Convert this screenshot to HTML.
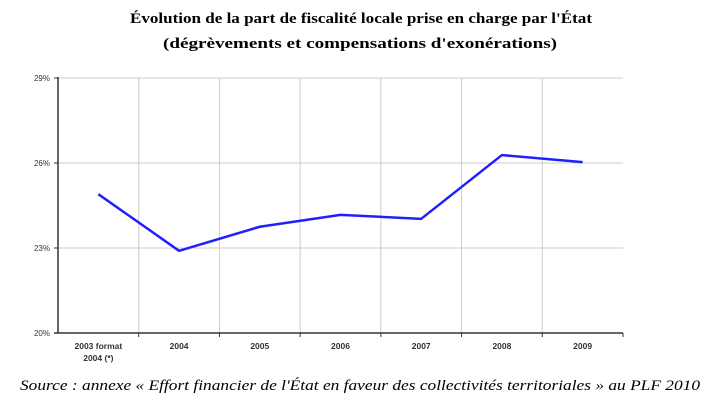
<!DOCTYPE html>
<html><head><meta charset="utf-8"><style>
body{margin:0;background:#fff;width:723px;height:409px;overflow:hidden}
svg{display:block}
</style></head><body>
<svg width="723" height="409">
<text x="130" y="23" textLength="462" lengthAdjust="spacingAndGlyphs" font-family="Liberation Serif, serif" font-weight="bold" font-size="15">Évolution de la part de fiscalité locale prise en charge par l'État</text>
<text x="163" y="48" textLength="394" lengthAdjust="spacingAndGlyphs" font-family="Liberation Serif, serif" font-weight="bold" font-size="15">(dégrèvements et compensations d'exonérations)</text>
<g id="grid"></g>
<g id="axes"></g>
<g id="series"></g>
<text x="20" y="390" textLength="680" lengthAdjust="spacingAndGlyphs" font-family="Liberation Serif, serif" font-style="italic" font-size="15">Source : annexe « Effort financier de l'État en faveur des collectivités territoriales » au PLF 2010</text>
</svg>
<script>
const categories=["2003 format|2004 (*)","2004","2005","2006","2007","2008","2009"];
const values=[24.9,22.9,23.75,24.17,24.03,26.28,26.03];
const yTicks=[20,23,26,29];
const NS="http://www.w3.org/2000/svg";
const L=58,R=623,T=78,B=333,yMin=20,yMax=29;
const bw=(R-L)/categories.length;
const xs=i=>L+bw*(i+0.5);
const ys=v=>B-(v-yMin)/(yMax-yMin)*(B-T);
function mk(tag,attrs,parent){const e=document.createElementNS(NS,tag);for(const k in attrs)e.setAttribute(k,attrs[k]);document.getElementById(parent).appendChild(e);return e;}
yTicks.forEach(t=>{
 if(t>yMin){const g=mk('line',{x1:L,x2:R,y1:ys(t),y2:ys(t),stroke:'#ccc','stroke-width':1},'grid');
 
 }
 const tk=mk('line',{x1:L-4,x2:L,y1:ys(t),y2:ys(t),stroke:'#333'},'axes');
 
 
 const tx=mk('text',{x:L-8,y:ys(t)+3,'text-anchor':'end','font-family':'Liberation Sans, sans-serif','font-size':8,fill:'#333'},'axes');
 tx.textContent=t+'%';
 
 
});
for(let i=1;i<=categories.length;i++){
 const x=L+bw*i;
 if(i<categories.length){const g=mk('line',{x1:x,x2:x,y1:T,y2:B,stroke:'#ccc'},'grid');
 
 }
 const tk=mk('line',{x1:x,x2:x,y1:B,y2:B+4,stroke:'#333'},'axes');
 
 
}
const ya=mk('line',{x1:L,x2:L,y1:T-1,y2:B,stroke:'#333','stroke-width':1.5},'axes');


const xa=mk('line',{x1:L-4,x2:R,y1:B,y2:B,stroke:'#333','stroke-width':1.5},'axes');


categories.forEach((c,i)=>{
 c.split('|').forEach((ln,j)=>{
  const tx=mk('text',{x:xs(i),y:B+16+j*12,'text-anchor':'middle','font-family':'Liberation Sans, sans-serif','font-size':8.5,'font-weight':'bold',fill:'#333'},'axes');
  tx.textContent=ln;
  
  
 });
});
const pl=mk('polyline',{points:values.map((v,i)=>xs(i)+','+ys(v)).join(' '),fill:'none',stroke:'#2020ff','stroke-width':2.5,'stroke-linejoin':'round'},'series');


</script>
</body></html>
